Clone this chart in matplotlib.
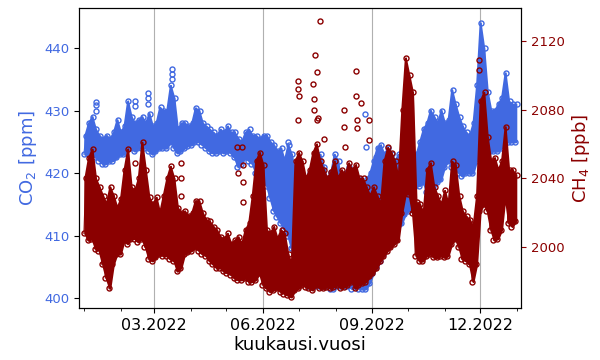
import numpy as np
import matplotlib
matplotlib.use("Agg")
import matplotlib.pyplot as plt
import matplotlib.dates as mdates

# ---- data: 3-day bins starting 2022-01-01 (day offsets), low / high per bin ----
bin_start_days = list(range(0, 366, 3))

co2_low = [423, 423, 423, 422.5, 422, 421.5, 421.5, 422, 422, 422.5, 423, 423, 424, 424, 423.5, 424,
           424, 424, 423.5, 423, 423.5, 424, 424, 424, 425, 424, 423.2, 423.5, 424, 424.4, 424.5, 425,
           425, 424.5, 424, 423.5, 423.2, 423.2, 423.5, 423.2, 423.5, 423.2, 422.5, 421, 421.5, 422.5,
           422, 421.5, 420, 419.5, 419.5, 418, 416, 414, 413, 412, 411, 410, 408, 406, 404, 403,
           402.5, 402, 402, 402, 402, 402, 402, 401.5, 401.5, 402, 402, 402, 402, 401.5, 402, 401.5,
           401.5, 401.5, 402.5, 404, 405, 406, 407, 408, 409, 410, 411, 412, 413.5, 414, 416, 418,
           418, 418.5, 417, 418, 417.5, 418.5, 419, 421, 422, 421, 421, 420, 419.5, 420, 420, 420,
           422, 424, 425, 424, 423.5, 423.5, 423.5, 424, 425, 425, 425, 425]
co2_high = [426, 428, 429, 427, 426, 425.5, 426, 425.5, 426.5, 428.5, 426.5, 427.5, 431.5, 429, 428,
            428.5, 429, 428, 429.5, 427.5, 428, 430.5, 430, 430, 434, 432, 427, 428, 428, 427.5, 428,
            430.4, 430, 428, 427.5, 427, 426.5, 426, 427, 426.5, 427.5, 426.5, 426.5, 425.5, 425,
            426.5, 427, 426, 426, 425.5, 426, 426, 425, 424.5, 423.5, 424, 422, 424.5, 423, 420, 420,
            419, 418, 420, 421, 422, 423, 421, 419, 420, 423, 422, 418, 420, 421, 420, 418, 419, 418,
            419, 420, 422, 424, 424.5, 423, 424, 423, 422, 423, 422, 421, 419.5, 421, 423, 425, 427,
            428, 430, 429, 428, 430, 428, 428.5, 433.3, 431, 429, 427.5, 426.5, 426, 428, 434, 444,
            440, 433, 430, 430, 431, 432, 436, 431.5, 431, 431]

ch4_low = [2008, 2004, 2005, 1999, 1998, 1990, 1982, 1976, 1990, 1996, 1996, 2004, 2002, 2005, 2005,
           2003, 2005, 2000, 1993, 1992, 1994, 1996, 1995, 1995, 1993, 1992, 1986, 1988, 1996, 1997,
           1998, 2000, 1998, 1996, 1995, 1992, 1990, 1988, 1988, 1986, 1985, 1984, 1982, 1981, 1981,
           1982, 1980, 1980, 1981, 1985, 1978, 1976, 1974, 1975, 1976, 1974, 1973, 1972, 1971, 1975,
           1976, 1978, 1977, 1976, 1975, 1978, 1976, 1976, 1977, 1976, 1977, 1978, 1976, 1977, 1978,
           1980, 1976, 1978, 1979, 1980, 1983, 1985, 1988, 1992, 1995, 1998, 2000, 2002, 2004, 2020,
           2031, 2031, 2020, 1995, 1992, 1992, 1995, 1996, 1994, 1994, 1995, 1994, 1995, 2002, 2005,
           2000, 1993, 1992, 1990, 1980, 1990, 2021, 2025, 2021, 2010, 2004, 2005, 2010, 2030, 2014,
           2012, 2015]
ch4_high = [2040, 2052, 2057, 2040, 2035, 2030, 2025, 2035, 2030, 2023, 2028, 2045, 2057, 2035, 2033,
            2040, 2061, 2045, 2029, 2025, 2029, 2020, 2030, 2040, 2047, 2040, 2023, 2020, 2021, 2018,
            2020, 2027, 2027, 2020, 2016, 2015, 2012, 2010, 2006, 2005, 2008, 2002, 2004, 2006, 2002,
            2010, 2014, 2030, 2050, 2055, 2048, 2010, 2008, 2012, 2005, 2010, 2008, 1996, 1990, 2050,
            2055, 2050, 2040, 2045, 2055, 2060, 2050, 2045, 2040, 2044, 2050, 2040, 2045, 2042, 2049,
            2045, 2048, 2040, 2040, 2035, 2030, 2035, 2030, 2025, 2050, 2058, 2055, 2050, 2040, 2080,
            2110, 2100, 2090, 2026, 2025, 2020, 2045, 2049, 2035, 2030, 2025, 2033, 2025, 2050, 2048,
            2030, 2021, 2018, 2016, 2012, 2030, 2085, 2090, 2064, 2050, 2052, 2045, 2050, 2070, 2045,
            2045, 2042]

# isolated readings (day offset, value)
co2_spike_days = [10, 10, 10, 43, 43, 54, 54, 54, 74, 74, 74, 172, 208, 237, 238, 246]
co2_spike_vals = [431.4, 430.8, 430.0, 431.5, 430.7, 432.8, 432.0, 431.0, 436.7, 435.9, 435.0,
                  425.0, 420.2, 429.5, 424.2, 422.6]
ch4_spike_days = [10, 10, 10, 43, 82, 82, 82, 129, 130, 133, 134, 134, 134, 180, 180, 180, 181,
                  193, 194, 194, 195, 196, 196, 197, 199, 202, 219, 219, 220, 229, 229, 230, 230,
                  233, 240, 240, 333, 333]
ch4_spike_vals = [2035, 2031, 2027, 2049, 2049, 2040, 2030, 2058.5, 2043, 2058.5, 2048, 2038, 2026,
                  2096.6, 2092, 2074, 2088, 2095, 2086, 2080, 2112, 2102, 2074, 2075, 2131.5, 2063,
                  2080, 2070, 2058, 2102.4, 2088, 2074, 2069.5, 2084, 2074, 2062.5, 2109, 2103]

# ---- build time arrays ----
base = np.datetime64("2022-01-01T00:00")
start = np.array(bin_start_days, dtype=float)


def to_dates(days):
    return base + (np.asarray(days, dtype=float) * 24 * 60).astype("timedelta64[m]")


bin_dates = to_dates(start + 0.75)
zig_days = np.column_stack([start, start + 1.5]).ravel()
co2_vals = np.column_stack([co2_low, co2_high]).ravel()
ch4_vals = np.column_stack([ch4_low, ch4_high]).ravel()

blue = "royalblue"
red = "darkred"

fig = plt.figure(figsize=(6, 3.6), dpi=100)
ax1 = fig.add_axes([0.132, 0.144, 0.736, 0.834])
ax2 = ax1.twinx()

mk = dict(marker="o", markersize=3.6, markerfacecolor="none", markeredgewidth=1.0)

ax1.fill_between(bin_dates, co2_low, co2_high, color=blue, lw=1.5, edgecolor=blue)
ax1.plot(to_dates(zig_days), co2_vals, color=blue, lw=0.8, **mk)
ax1.plot(to_dates(co2_spike_days), co2_spike_vals, color=blue, ls="none", **mk)
ax2.fill_between(bin_dates, ch4_low, ch4_high, color=red, lw=1.5, edgecolor=red)
ax2.plot(to_dates(zig_days), ch4_vals, color=red, lw=0.8, **mk)
ax2.plot(to_dates(ch4_spike_days), ch4_spike_vals, color=red, ls="none", **mk)

ax1.set_ylim(398.4, 446.4)
ax2.set_ylim(1964.5, 2139.2)
ax1.set_yticks([400, 410, 420, 430, 440])
ax2.set_yticks([2000, 2040, 2080, 2120])
ax1.set_xlim(np.datetime64("2021-12-28"), np.datetime64("2023-01-04"))

ax1.xaxis.set_major_locator(mdates.MonthLocator(bymonth=[3, 6, 9, 12]))
ax1.xaxis.set_minor_locator(mdates.MonthLocator())
ax1.xaxis.set_major_formatter(mdates.DateFormatter("%m.%Y"))
ax1.grid(axis="x", which="major", color="#b0b0b0", lw=0.8)
ax1.set_axisbelow(True)

ax1.tick_params(axis="x", labelsize=11.5)
ax1.tick_params(axis="y", labelsize=9.5, labelcolor=blue)
ax2.tick_params(axis="y", labelsize=9.5, colors=red)

ax1.set_ylabel("CO$_2$ [ppm]", color=blue, fontsize=13)
ax2.set_ylabel("CH$_4$ [ppb]", color=red, fontsize=13)
ax1.set_xlabel("kuukausi.vuosi", fontsize=13, labelpad=2)

fig.savefig("out.png", dpi=100)
